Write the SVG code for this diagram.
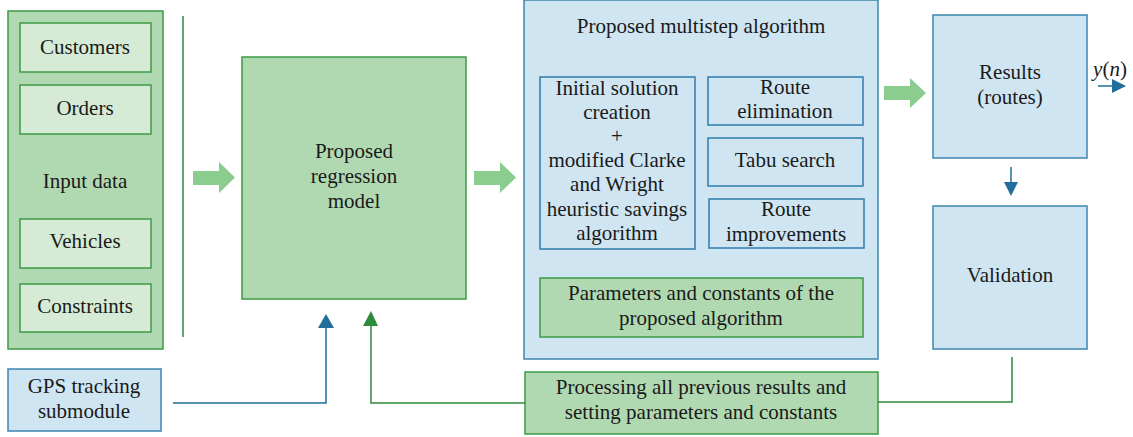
<svg xmlns="http://www.w3.org/2000/svg" width="1133" height="437" viewBox="0 0 1133 437">
<style>
text{font-family:"Liberation Serif","DejaVu Serif",serif;font-size:21px;fill:#1a1a1a;text-anchor:middle}
.g{fill:#b1d9b1;stroke:#3d9a45;stroke-width:1.5}
.gi{fill:#d6ebd6;stroke:#3d9a45;stroke-width:1.5}
.b{fill:#cfe5f2;stroke:#3d86b0;stroke-width:1.5}
.bi{fill:#cfe5f2;stroke:#2f7cab;stroke-width:1.5}
.big{fill:#8bcc8f}
.lb{fill:none;stroke:#1f6e9c;stroke-width:1.5}
.lg{fill:none;stroke:#2e8b3a;stroke-width:1.5}
</style>
<rect width="1133" height="437" fill="#fff"/>
<g id="input">
<rect class="g" x="8" y="11" width="155" height="338"/>
<text x="85" y="188">Input data</text>
</g>
<g id="customers"><rect class="gi" x="20" y="23" width="131" height="49"/><text x="85" y="54">Customers</text></g>
<g id="orders"><rect class="gi" x="20" y="85" width="131" height="49"/><text x="85" y="115">Orders</text></g>
<g id="vehicles"><rect class="gi" x="20" y="219" width="131" height="49"/><text x="85" y="248">Vehicles</text></g>
<g id="constraints"><rect class="gi" x="20" y="284" width="131" height="48"/><text x="85" y="313">Constraints</text></g>
<g id="regression"><rect class="g" x="242" y="57" width="224" height="242"/>
<text x="354" y="158">Proposed</text><text x="354" y="183">regression</text><text x="354" y="208">model</text></g>
<g id="multistep"><rect class="b" x="524" y="0" width="354" height="359"/>
<text x="701" y="33">Proposed multistep algorithm</text></g>
<g id="initial"><rect class="bi" x="540" y="77" width="155" height="172"/>
<text x="617" y="95">Initial solution</text><text x="617" y="119">creation</text><text x="617" y="143">+</text><text x="617" y="167">modified Clarke</text><text x="617" y="191">and Wright</text><text x="617" y="216">heuristic savings</text><text x="617" y="240">algorithm</text></g>
<g id="elimination"><rect class="bi" x="708" y="77" width="155" height="48"/><text x="785" y="94">Route</text><text x="785" y="118">elimination</text></g>
<g id="tabu"><rect class="bi" x="708" y="138" width="155" height="48"/><text x="785" y="167">Tabu search</text></g>
<g id="improvements"><rect class="bi" x="709" y="199" width="155" height="49"/><text x="786" y="216">Route</text><text x="786" y="241">improvements</text></g>
<g id="parameters"><rect class="g" x="540" y="278" width="323" height="59"/><text x="701" y="300">Parameters and constants of the</text><text x="701" y="325">proposed algorithm</text></g>
<g id="results"><rect class="b" x="933" y="15" width="154" height="143"/><text x="1010" y="79">Results</text><text x="1010" y="104">(routes)</text></g>
<g id="validation"><rect class="b" x="933" y="206" width="154" height="143"/><text x="1010" y="282">Validation</text></g>
<g id="gps"><rect class="b" x="8" y="369" width="153" height="62"/><text x="84" y="393">GPS tracking</text><text x="84" y="418">submodule</text></g>
<g id="processing"><rect class="g" x="525" y="372" width="353" height="62"/><text x="701" y="394">Processing all previous results and</text><text x="701" y="419">setting parameters and constants</text></g>
<g id="output"><text x="1110" y="76" style="font-style:italic">y<tspan style="font-style:normal">(</tspan>n<tspan style="font-style:normal">)</tspan></text></g>
<g id="connectors">
<line x1="183" y1="16" x2="183" y2="337" class="lg"/>
<polygon class="big" points="193,171 219,171 219,162 235,177.5 219,193 219,185 193,185"/>
<polygon class="big" points="474,171 500,171 500,162 516,177.5 500,193 500,185 474,185"/>
<polygon class="big" points="884,86 910,86 910,78 926,93 910,108 910,100 884,100"/>
<polyline class="lb" points="173,403 326,403 326,327"/>
<polygon points="318,328 326,314 334,328" fill="#1f6e9c"/>
<polyline class="lg" points="525,403 371,403 371,325"/>
<polygon points="363,326 371,311 378,326" fill="#2e8b3a"/>
<polyline class="lg" points="878,402 1012,402 1012,357"/>
<line x1="1011" y1="167" x2="1011" y2="184" class="lb"/>
<polygon points="1004,182 1018,182 1011,196" fill="#1f6e9c"/>
<line x1="1098" y1="86" x2="1114" y2="86" class="lb"/>
<polygon points="1112,79 1126,86 1112,93" fill="#1f6e9c"/>
</g>
</svg>
